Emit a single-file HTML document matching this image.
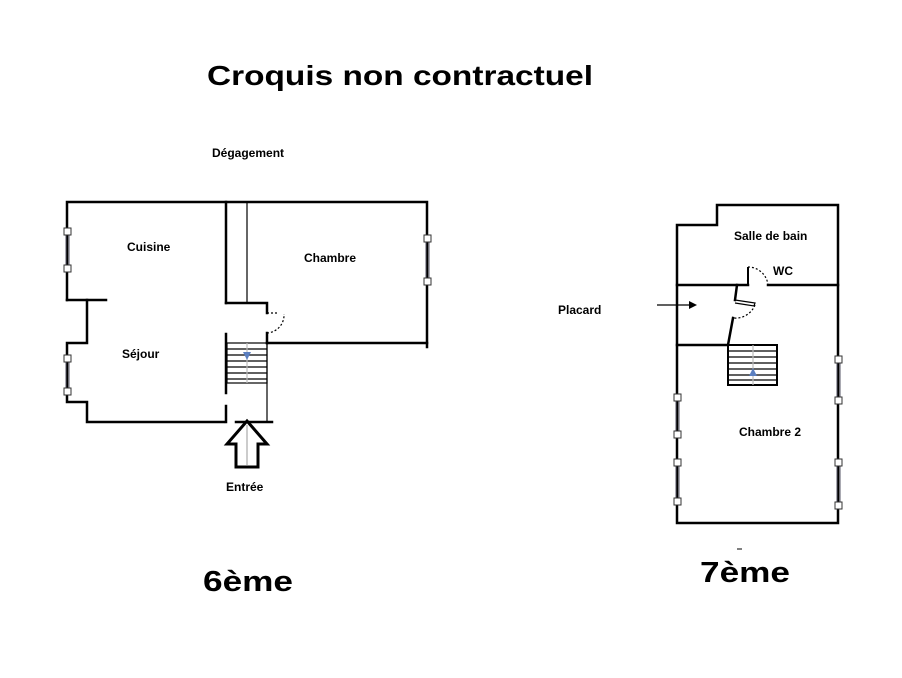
<!DOCTYPE html>
<html><head><meta charset="utf-8"><style>
html,body{margin:0;padding:0;background:#fff;}
svg{display:block;}
text{font-family:"Liberation Sans",sans-serif;font-weight:bold;fill:#000;}
</style></head><body>
<svg width="902" height="678" viewBox="0 0 902 678" xmlns="http://www.w3.org/2000/svg">
<text x="207" y="85" font-size="28" textLength="386" lengthAdjust="spacingAndGlyphs">Croquis non contractuel</text>
<text x="212" y="157" font-size="12">Dégagement</text>
<text x="203" y="591" font-size="29" textLength="90" lengthAdjust="spacingAndGlyphs">6ème</text>
<text x="700" y="582" font-size="29" textLength="90" lengthAdjust="spacingAndGlyphs">7ème</text>
<line x1="737" y1="549" x2="742" y2="549" stroke="#000" stroke-width="1"/>

<g stroke="#000" stroke-width="2.5" fill="none" stroke-linecap="square">
<!-- left plan -->
<polyline points="67,300 67,202 427,202 427,347"/>
<polyline points="67,300 106,300"/>
<polyline points="87,300 87,343 67,343 67,402 87,402 87,422 224,422"/>
<line x1="236" y1="422" x2="272" y2="422"/>
<line x1="226" y1="202" x2="226" y2="303"/>
<line x1="226" y1="334" x2="226" y2="393"/>
<line x1="226" y1="406" x2="226" y2="422"/>
<polyline points="226,303 267,303 267,313"/>
<line x1="267" y1="333" x2="267" y2="343"/>
<line x1="267" y1="343" x2="427" y2="343"/>
<!-- right plan -->
<polyline points="677,225 717,225 717,205 838,205 838,523 677,523 677,225"/>
<line x1="677" y1="285" x2="748" y2="285"/>
<line x1="768" y1="285" x2="838" y2="285"/>
<polyline points="737,285 735,300"/>
<polyline points="733,318 728,345 677,345"/>
</g>
<g stroke="#000" stroke-width="1.2" fill="none">
<line x1="247" y1="202" x2="247" y2="303"/>
<line x1="267" y1="343" x2="267" y2="422"/>
<path d="M267,313 h11 M267,333 A18,18 0 0 0 284,314" stroke-dasharray="2,2"/>
<line x1="748" y1="267" x2="748" y2="285" stroke-width="2"/>
<path d="M748,267 A20,20 0 0 1 768,285" stroke-dasharray="2,2"/>
<path d="M735,300 L755,303 L754,306 L735,303" />
<path d="M755,305 A21,21 0 0 1 733,318" stroke-dasharray="2,2"/>
<!-- stairs left -->
<rect x="227" y="343" width="40" height="40"/>
<path d="M227,349h40M227,355h40M227,361h40M227,367h40M227,373h40M227,379h40"/>
<line x1="247" y1="343" x2="247" y2="383" stroke="#bbb"/>
<!-- stairs right -->
<rect x="728" y="345" width="49" height="40" stroke-width="2"/>
<path d="M728,351h49M728,357h49M728,363h49M728,369h49M728,375h49M728,380h49"/>
<line x1="753" y1="345" x2="753" y2="385" stroke="#bbb"/>
</g>
<polygon points="243,352 251,352 247,360" fill="#5b7fc0"/>
<polygon points="749,376 757,376 753,368" fill="#5b7fc0"/>
<!-- entry arrow -->
<polygon points="247,421 267,444 258,444 258,467 236,467 236,444 227,444" fill="#fff" stroke="#000" stroke-width="3" stroke-linejoin="miter"/>
<line x1="247" y1="425" x2="247" y2="465" stroke="#999" stroke-width="1"/>
<!-- placard arrow -->
<line x1="657" y1="305" x2="690" y2="305" stroke="#000" stroke-width="1.2"/>
<polygon points="697,305 689,301 689,309" fill="#000"/>
<!-- windows -->
<g fill="#fff" stroke="#333" stroke-width="1">
<g stroke="#556" stroke-width="1"><line x1="66" y1="232" x2="66" y2="268"/><line x1="69" y1="232" x2="69" y2="268"/>
<line x1="66" y1="358" x2="66" y2="391"/><line x1="69" y1="358" x2="69" y2="391"/>
<line x1="426" y1="238" x2="426" y2="281"/><line x1="429" y1="238" x2="429" y2="281"/>
<line x1="837" y1="360" x2="837" y2="400"/><line x1="840" y1="360" x2="840" y2="400"/>
<line x1="837" y1="462" x2="837" y2="505"/><line x1="840" y1="462" x2="840" y2="505"/>
<line x1="676" y1="397" x2="676" y2="435"/><line x1="679" y1="397" x2="679" y2="435"/>
<line x1="676" y1="462" x2="676" y2="502"/><line x1="679" y1="462" x2="679" y2="502"/></g>
<rect x="64" y="228" width="7" height="7"/><rect x="64" y="265" width="7" height="7"/>
<rect x="64" y="355" width="7" height="7"/><rect x="64" y="388" width="7" height="7"/>
<rect x="424" y="235" width="7" height="7"/><rect x="424" y="278" width="7" height="7"/>
<rect x="835" y="356" width="7" height="7"/><rect x="835" y="397" width="7" height="7"/>
<rect x="835" y="459" width="7" height="7"/><rect x="835" y="502" width="7" height="7"/>
<rect x="674" y="394" width="7" height="7"/><rect x="674" y="431" width="7" height="7"/>
<rect x="674" y="459" width="7" height="7"/><rect x="674" y="498" width="7" height="7"/>
</g>
<g font-size="12">
<text x="127" y="251">Cuisine</text>
<text x="304" y="262">Chambre</text>
<text x="122" y="358">Séjour</text>
<text x="226" y="491">Entrée</text>
<text x="734" y="240">Salle de bain</text>
<text x="773" y="275">WC</text>
<text x="558" y="314">Placard</text>
<text x="739" y="436">Chambre 2</text>
</g>
</svg>
</body></html>
